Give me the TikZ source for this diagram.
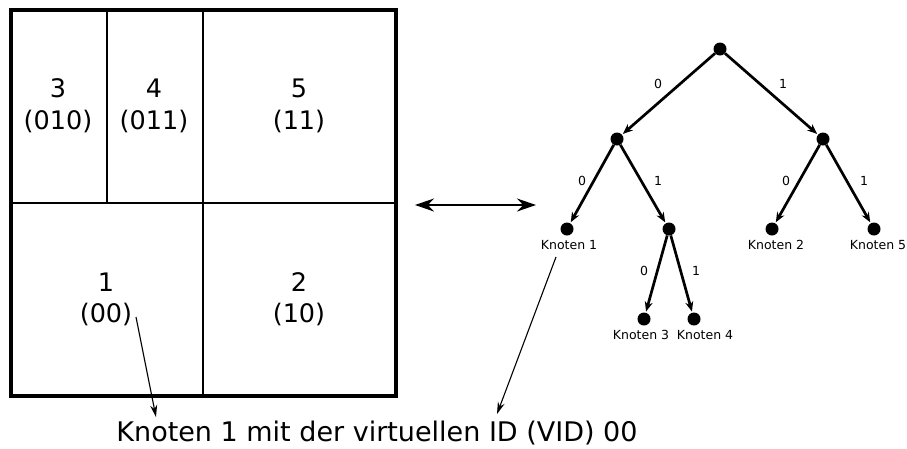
\documentclass[tikz,border=0pt]{standalone}
\usepackage{fontspec}
\setmainfont{DejaVu Sans}
\usetikzlibrary{arrows.meta}
\begin{document}
\begin{tikzpicture}[x=1pt,y=-1pt,
  big/.style={font=\fontsize{25.5}{30}\selectfont, inner sep=0pt},
  small/.style={font=\fontsize{12.5}{15}\selectfont, inner sep=0pt},
  dot/.style={circle, fill=black, minimum size=13pt, inner sep=0pt},
  tedge/.style={line width=2.7pt, -{Stealth[length=10pt,width=8pt]}, shorten >=1pt},
  note/.style={line width=1.1pt, -{Stealth[length=12pt,width=7pt]}}
]
\useasboundingbox (0,0) rectangle (907,448);
% grid
\draw[line width=3.4pt] (11,10) rectangle (396,396);
\draw[line width=2pt] (11,203) -- (396,203);
\draw[line width=2pt] (203,10) -- (203,396);
\draw[line width=2pt] (107,10) -- (107,203);
\node[big] (c3) at (58,88) {3};
\node[big] (c3b) at (58,122) {(010)};
\node[big] (c4) at (154,88) {4};
\node[big] (c4b) at (154,122) {(011)};
\node[big] (c5) at (299,88) {5};
\node[big] (c5b) at (299,122) {(11)};
\node[big] (c1) at (106,282) {1};
\node[big] (c1b) at (106,314) {(00)};
\node[big] (c2) at (299,282) {2};
\node[big] (c2b) at (299,314) {(10)};
% double arrow
\coordinate (da) at (415,205);
\coordinate (db) at (536,205);
\draw[line width=1.6pt, {Stealth[length=19pt,width=13pt]}-{Stealth[length=19pt,width=13pt]}] (da) -- (db);
% tree
\node[dot] (r) at (720,49) {};
\node[dot] (a) at (617,139) {};
\node[dot] (b) at (823,139) {};
\node[dot] (k1) at (567,229) {};
\node[dot] (m) at (669,229) {};
\node[dot] (k2) at (772,229) {};
\node[dot] (k5) at (874,229) {};
\node[dot] (k3) at (644,319) {};
\node[dot] (k4) at (694,319) {};
\draw[tedge] (r) -- (a);
\draw[tedge] (r) -- (b);
\draw[tedge] (a) -- (k1);
\draw[tedge] (a) -- (m);
\draw[tedge] (b) -- (k2);
\draw[tedge] (b) -- (k5);
\draw[tedge] (m) -- (k3);
\draw[tedge] (m) -- (k4);
\node[small] (e1) at (658,84) {0};
\node[small] (e2) at (783,84) {1};
\node[small] (e3) at (582,181) {0};
\node[small] (e4) at (658,181) {1};
\node[small] (e5) at (786,181) {0};
\node[small] (e6) at (864,181) {1};
\node[small] (e7) at (644,271) {0};
\node[small] (e8) at (696,271) {1};
\node[small] (l1) at (569,245) {Knoten 1};
\node[small] (l2) at (776,245) {Knoten 2};
\node[small] (l5) at (878,245) {Knoten 5};
\node[small] (l3) at (641,335) {Knoten 3};
\node[small] (l4) at (705,335) {Knoten 4};
% caption
\node[font=\fontsize{27}{32}\selectfont, inner sep=0pt] (cap) at (377,433) {Knoten 1 mit der virtuellen ID (VID) 00};
\coordinate (s1) at (136,317);
\coordinate (t1) at (156,417);
\coordinate (s2) at (556,257);
\coordinate (t2) at (497,414);
\draw[note] (s1) -- (t1);
\draw[note] (s2) -- (t2);
\end{tikzpicture}
\end{document}
